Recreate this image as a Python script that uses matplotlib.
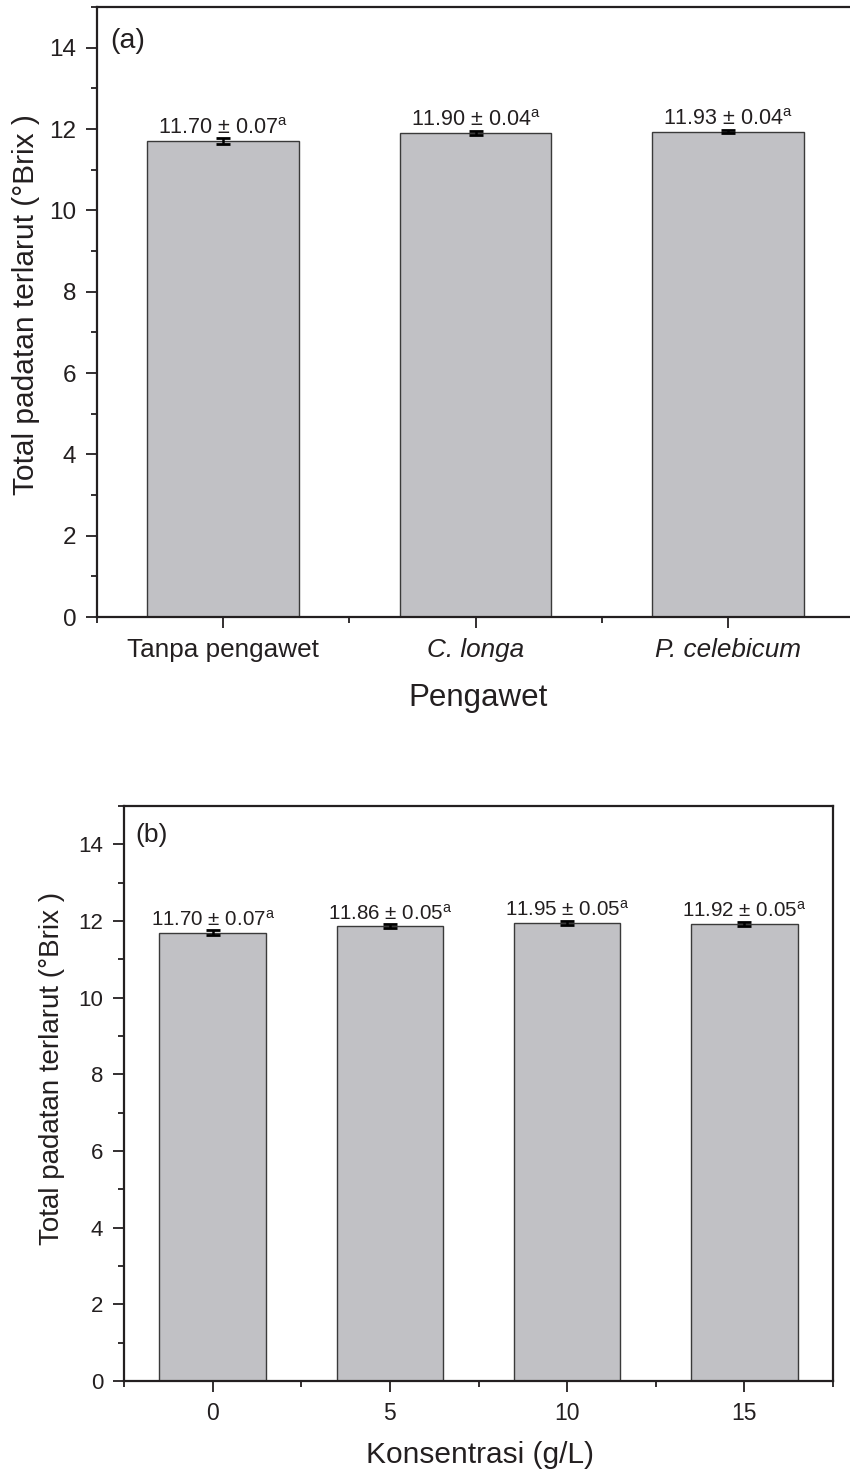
import matplotlib
matplotlib.use('Agg')
import matplotlib.pyplot as plt
from matplotlib.ticker import MultipleLocator, FixedLocator

plt.rcParams['font.family'] = ['Liberation Sans', 'DejaVu Sans']
plt.rcParams['mathtext.fontset'] = 'custom'
plt.rcParams['mathtext.rm'] = 'Liberation Sans'
plt.rcParams['mathtext.it'] = 'Liberation Sans:italic'

# (a) preservative type
pengawet = ['Tanpa pengawet', 'C. longa', 'P. celebicum']
brix_a = [11.70, 11.90, 11.93]
sd_a = [0.07, 0.04, 0.04]
notasi_a = ['a', 'a', 'a']

# (b) concentration
konsentrasi = ['0', '5', '10', '15']
brix_b = [11.70, 11.86, 11.95, 11.92]
sd_b = [0.07, 0.05, 0.05, 0.05]
notasi_b = ['a', 'a', 'a', 'a']

ink = '#231f20'
bar_fill = '#c1c1c5'
bar_edge = '#3a3a3a'

W, H = 850, 1475
fig = plt.figure(figsize=(W / 100, H / 100), dpi=100)


def px_axes(l, t, r, b):
    return fig.add_axes([l / W, 1 - b / H, (r - l) / W, (b - t) / H])


def draw_panel(ax, xs, vals, errs, marks, xlim, tick_fs, ann_fs):
    ax.bar(xs, vals, width=0.6, color=bar_fill, edgecolor=bar_edge,
           linewidth=1.0, zorder=2)
    ax.errorbar(xs, vals, yerr=errs, fmt='none', ecolor='black',
                elinewidth=1.8, capsize=5.2, capthick=2.0, zorder=3)
    for x, v, e, m in zip(xs, vals, errs, marks):
        ax.annotate(f'{v:.2f} ± {e:.2f}$^{{\\mathrm{{{m}}}}}$', xy=(x, v),
                    xytext=(0, 5), textcoords='offset points',
                    ha='center', va='baseline', fontsize=ann_fs, color=ink)
    ax.set_xlim(*xlim)
    ax.set_ylim(0, 15)
    ax.yaxis.set_major_locator(MultipleLocator(2))
    ax.yaxis.set_minor_locator(MultipleLocator(1))
    ax.xaxis.set_major_locator(FixedLocator(xs))
    # minor ticks sit halfway between the bars
    ax.xaxis.set_minor_locator(FixedLocator([x + 0.5 for x in [xs[0] - 1] + list(xs)]))
    ax.tick_params(which='major', direction='out', length=8, width=1.3,
                   colors=ink, labelsize=tick_fs, pad=7)
    ax.tick_params(which='minor', direction='out', length=4, width=1.3,
                   colors=ink)
    for s in ax.spines.values():
        s.set_linewidth(1.6)
        s.set_color(ink)


# panel (a)
ax1 = px_axes(97, 7, 854, 617)
xa = [1, 2, 3]
draw_panel(ax1, xa, brix_a, sd_a, notasi_a, (0.5, 3.5), 17.5, 15.5)
ax1.set_xticklabels(pengawet, fontsize=18.8)
for lab in ax1.get_xticklabels()[1:]:
    lab.set_fontstyle('italic')
ax1.text(0.017, 0.965, '(a)', transform=ax1.transAxes, ha='left', va='top',
         fontsize=20.5, color=ink)
fig.text(478 / W, 1 - 698 / H, 'Pengawet', ha='center', va='center',
         fontsize=22.5, color=ink)
fig.text(26 / W, 1 - 305 / H, 'Total padatan terlarut (°Brix )', rotation=90,
         ha='center', va='center', fontsize=21.5, color=ink)

# panel (b)
ax2 = px_axes(124, 806, 833, 1381)
xb = [0, 1, 2, 3]
draw_panel(ax2, xb, brix_b, sd_b, notasi_b, (-0.5, 3.5), 16, 14.8)
ax2.set_xticklabels(konsentrasi, fontsize=16.5)
ax2.text(0.016, 0.97, '(b)', transform=ax2.transAxes, ha='left', va='top',
         fontsize=19, color=ink)
fig.text(480 / W, 1 - 1455 / H, 'Konsentrasi (g/L)', ha='center', va='center',
         fontsize=21.5, color=ink)
fig.text(52 / W, 1 - 1068 / H, 'Total padatan terlarut (°Brix )', rotation=90,
         ha='center', va='center', fontsize=20, color=ink)

fig.savefig('out.png', dpi=100, facecolor='white')
